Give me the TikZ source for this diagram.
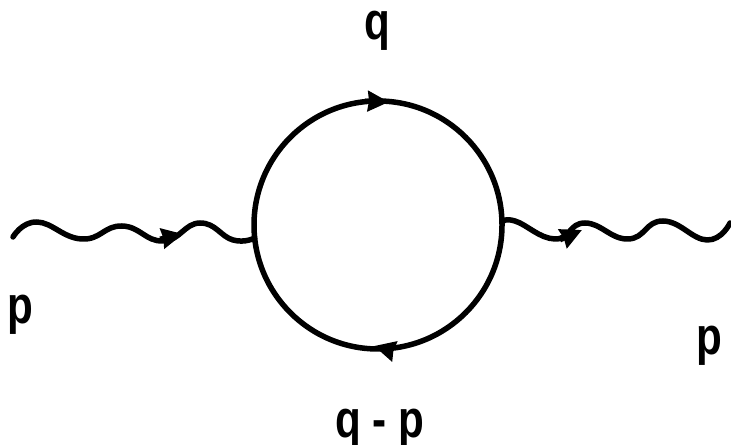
\documentclass[tikz,border=0pt]{standalone}
\usepackage{fontspec}
\setmainfont{Liberation Sans}
\usetikzlibrary{arrows.meta}

\tikzset{
  momentum/.style={font=\fontsize{30}{32}\selectfont\bfseries,xscale=.8,anchor=base,inner sep=0pt},
  photon/.style={line width=.11cm,line cap=round,line join=round},
  fermion/.style={draw,circle,line width=.11cm,minimum size=4.96cm,inner sep=0pt,outer sep=0pt}
}

\begin{document}
\begin{tikzpicture}[>={Stealth[length=.42cm,width=.4cm,inset=.02cm]}]
  \useasboundingbox (0,0) rectangle (14.62,8.9);
  \node[fermion] (loop) at (7.56,4.4) {};
  % external wavy lines
  \draw[photon] plot[smooth,tension=.8] coordinates {(.26,4.16) (.74,4.46) (1.64,4.12)
    (2.44,4.38) (3.26,4.08) (4,4.44) (4.66,4.1) (loop.186)};
  \draw[photon] plot[smooth,tension=.8] coordinates {(loop.1) (10.3,4.48) (11.1,4.12)
    (11.7,4.44) (12.56,4.12) (13.26,4.48) (14.14,4.1) (14.6,4.44)};
  % arrows on the lines
  \coordinate (inback) at (3.2,4.12);
  \coordinate (intip) at (3.66,4.22);
  \coordinate (outback) at (11.2,4.1);
  \coordinate (outtip) at (11.64,4.3);
  \coordinate (topback) at (7.3,6.88);
  \coordinate (toptip) at (7.78,6.86);
  \coordinate (botback) at (7.86,1.88);
  \coordinate (bottip) at (7.48,1.98);
  \draw[->,line width=.1cm] (inback)--(intip);
  \draw[->,line width=.1cm] (outback)--(outtip);
  \draw[->,line width=.1cm] (topback)--(toptip);
  \draw[->,line width=.1cm] (botback)--(bottip);
  % labels
  \node[momentum] (qtop) at (7.54,8.1) {q};
  \node[momentum] (pleft) at (.4,2.42) {p};
  \node[momentum] (pright) at (14.18,1.8) {p};
  \node[momentum] (qminusp) at (7.6,.14) {q - p};
\end{tikzpicture}
\end{document}
